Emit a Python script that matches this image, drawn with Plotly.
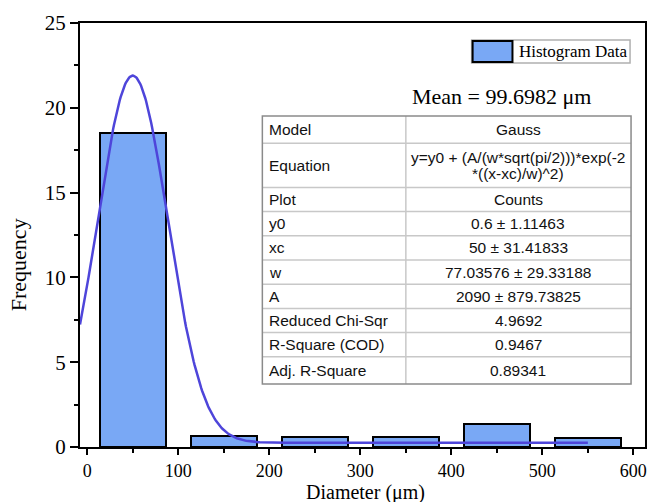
import numpy as np
import plotly.graph_objects as go

# ---------------- data ----------------
bin_centers = [50, 150, 250, 350, 450, 550]
frequencies = [18.5, 0.65, 0.6, 0.6, 1.35, 0.55]
bin_width = 72

# Gauss curve as drawn
fit_y0 = 0.25
fit_xc = 50
fit_w = 77.03576
fit_A = 2090
curve_x_start = -8
curve_x_end = 550

x_range = [-8, 612.8]
y_range = [0, 25]

legend_label = "Histogram Data"
mean_label = "Mean = 99.6982 μm"
x_title = "Diameter (μm)"
y_title = "Frequency"

table_labels = ["Model", "Equation", "Plot", "y0", "xc", "w", "A",
                "Reduced Chi-Sqr", "R-Square (COD)", "Adj. R-Square"]
table_values = ["Gauss",
                "y=y0 + (A/(w*sqrt(pi/2)))*exp(-2<br>*((x-xc)/w)^2)",
                "Counts", "0.6 ± 1.11463", "50 ± 31.41833",
                "77.03576 ± 29.33188", "2090 ± 879.73825",
                "4.9692", "0.9467", "0.89341"]

# ---------------- styles / geometry ----------------
W, H = 652, 502
L, R, T, B = 80, 647, 23, 447
BAR_FILL = "#79A8F5"
CURVE = "#4E45DA"
SERIF = "Liberation Serif"
SANS = "Liberation Sans"


def px(X):
    return (X - L) / (R - L)


def py(Y):
    return (B - Y) / (B - T)


xs = np.linspace(curve_x_start, curve_x_end, 600)
ys = fit_y0 + (fit_A / (fit_w * np.sqrt(np.pi / 2))) * np.exp(-2 * ((xs - fit_xc) / fit_w) ** 2)

fig = go.Figure()
fig.add_trace(go.Bar(
    x=bin_centers, y=frequencies, width=bin_width, name=legend_label,
    marker=dict(color=BAR_FILL, line=dict(color="black", width=2)),
    showlegend=False,
))
fig.add_trace(go.Scatter(
    x=xs, y=ys, mode="lines", line=dict(color=CURVE, width=2.5),
    showlegend=False, name="Gauss fit",
))

axis_common = dict(
    showline=True, linecolor="black", linewidth=2, mirror=True,
    ticks="outside", tickwidth=2, tickcolor="black",
    showgrid=False, zeroline=False,
)
fig.update_xaxes(
    range=x_range, tick0=0, dtick=100, ticklen=6,
    tickfont=dict(family=SERIF, size=18, color="black"),
    minor=dict(dtick=50, ticklen=3.5, tickwidth=2, tickcolor="black", ticks="outside", showgrid=False),
    **axis_common,
)
fig.update_yaxes(
    range=y_range, tick0=0, dtick=5, ticklen=8,
    tickfont=dict(family=SERIF, size=21, color="black"),
    minor=dict(dtick=2.5, ticklen=4, tickwidth=2, tickcolor="black", ticks="outside", showgrid=False),
    **axis_common,
)

shapes = []
annotations = []

# axis titles
annotations.append(dict(x=px(367), y=py(492), xref="paper", yref="paper", text=x_title,
                        showarrow=False, xanchor="center", yanchor="middle",
                        font=dict(family=SERIF, size=20, color="black")))
annotations.append(dict(x=px(18), y=py(265), xref="paper", yref="paper", text=y_title,
                        showarrow=False, xanchor="center", yanchor="middle", textangle=-90,
                        font=dict(family=SERIF, size=22, color="black")))

# legend
shapes.append(dict(type="rect", xref="paper", yref="paper", x0=px(473), x1=px(632), y0=py(63), y1=py(40),
                   line=dict(color="#b0b0b0", width=1.5), fillcolor="white", layer="above"))
shapes.append(dict(type="rect", xref="paper", yref="paper", x0=px(474), x1=px(514), y0=py(62), y1=py(41),
                   line=dict(color="black", width=2), fillcolor=BAR_FILL, layer="above"))
annotations.append(dict(x=px(519), y=py(51.5), xref="paper", yref="paper", text=legend_label,
                        showarrow=False, xanchor="left", yanchor="middle",
                        font=dict(family=SERIF, size=17, color="black")))

# mean text
annotations.append(dict(x=px(411), y=py(96), xref="paper", yref="paper", text=mean_label,
                        showarrow=False, xanchor="left", yanchor="middle",
                        font=dict(family=SERIF, size=22, color="black")))

# table
TL, TD, TR, TT = 263, 407, 633, 116
ROW1 = 24.2
LINE_STEP = 16
heights = []
for i, v in enumerate(table_values):
    n = len(v.split("<br>"))
    h = ROW1 + (n - 1) * 20
    if i == 0 or i == len(table_values) - 1:
        h += 3
    heights.append(h)
bounds = [TT]
for h in heights:
    bounds.append(bounds[-1] + h)
TBOT = bounds[-1]

shapes.append(dict(type="rect", xref="paper", yref="paper", x0=px(TL), x1=px(TR), y0=py(TBOT), y1=py(TT),
                   line=dict(width=0), fillcolor="white", layer="above"))
for yb in bounds[1:-1]:
    shapes.append(dict(type="line", xref="paper", yref="paper", x0=px(TL), x1=px(TR), y0=py(yb), y1=py(yb),
                       line=dict(color="#c8c8c8", width=1.5), layer="above"))
shapes.append(dict(type="line", xref="paper", yref="paper", x0=px(TD), x1=px(TD), y0=py(TBOT), y1=py(TT),
                   line=dict(color="#c8c8c8", width=1.5), layer="above"))
shapes.append(dict(type="rect", xref="paper", yref="paper", x0=px(TL), x1=px(TR), y0=py(TBOT), y1=py(TT),
                   line=dict(color="#8a8a8a", width=1.5), fillcolor="rgba(0,0,0,0)", layer="above"))

for i, (lab, val) in enumerate(zip(table_labels, table_values)):
    yc = (bounds[i] + bounds[i + 1]) / 2
    annotations.append(dict(x=px(TL + 5), y=py(yc), xref="paper", yref="paper", text=lab,
                            showarrow=False, xanchor="left", yanchor="middle",
                            font=dict(family=SANS, size=15.5, color="#111111")))
    lines = val.split("<br>")
    n = len(lines)
    for j, ln in enumerate(lines):
        yl = yc + (j - (n - 1) / 2) * LINE_STEP
        annotations.append(dict(x=px((TD + TR) / 2), y=py(yl), xref="paper", yref="paper", text=ln,
                                showarrow=False, xanchor="center", yanchor="middle",
                                font=dict(family=SANS, size=15.5, color="#111111")))

fig.update_layout(
    width=W, height=H, autosize=False,
    margin=dict(l=L, r=W - R, t=T, b=H - B, pad=0),
    paper_bgcolor="white", plot_bgcolor="white",
    shapes=shapes, annotations=annotations,
    bargap=0, showlegend=False,
)

fig.write_html("out.html")
